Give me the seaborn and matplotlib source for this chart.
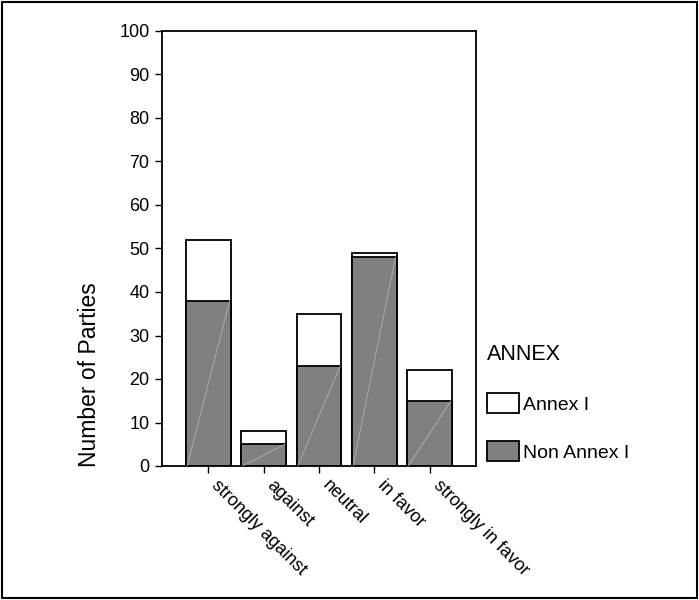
import pandas as pd
import matplotlib
matplotlib.use('Agg')
import matplotlib.pyplot as plt
from matplotlib.patches import Patch, Rectangle
from matplotlib.transforms import ScaledTranslation
import seaborn as sns

# Party positions and counts
positions = ['strongly against', 'against', 'neutral', 'in favor', 'strongly in favor']
non_annex = [38, 5, 23, 48, 15]
annex = [14, 3, 12, 1, 7]
y_ticks = list(range(0, 101, 10))

df = pd.DataFrame({'position': positions, 'Non Annex I': non_annex, 'Annex I': annex})
df['total'] = df['Non Annex I'] + df['Annex I']

sns.set_style('white')
plt.rcParams['font.family'] = ['Liberation Sans', 'DejaVu Sans']
plt.rcParams['text.color'] = 'black'
plt.rcParams['axes.labelcolor'] = 'black'
plt.rcParams['xtick.color'] = 'black'
plt.rcParams['ytick.color'] = 'black'

fig = plt.figure(figsize=(6.99, 6.00), dpi=100)
ax = fig.add_axes([162 / 699, 1 - 466 / 600, 314 / 699, 435 / 600])

# Stacked bars: full height in white, Non Annex I in gray on top of it
sns.barplot(data=df, x='position', y='total', color='white', saturation=1,
            edgecolor='black', linewidth=1.3, width=0.81, ax=ax)
sns.barplot(data=df, x='position', y='Non Annex I', color='#808080', saturation=1,
            edgecolor='black', linewidth=1.3, width=0.81, ax=ax)

# faint diagonal streak inside the gray bars
for p in ax.patches[len(positions):]:
    x0, w, h = p.get_x(), p.get_width(), p.get_height()
    ax.plot([x0 + 0.02, x0 + w - 0.02], [0, h], color='#bbbbbb', lw=0.5, zorder=3)

ax.set_ylim(0, 100)
ax.set_xlim(-0.84, len(positions) - 1 + 0.84)
ax.set_yticks(y_ticks)
ax.tick_params(axis='y', labelsize=13, length=5, width=1, direction='out', left=True, pad=4)
ax.tick_params(axis='x', labelsize=13, length=5, width=1, direction='out', bottom=True, pad=7)
ax.set_xticks(range(len(positions)))
ax.set_xticklabels(positions, rotation=-45, ha='left', va='center', rotation_mode='anchor')
shift = ScaledTranslation(0.06, 0, fig.dpi_scale_trans)
for lab in ax.get_xticklabels():
    lab.set_transform(lab.get_transform() + shift)
ax.set_xlabel('')
ax.set_ylabel('Number of Parties', fontsize=16.5)
ax.yaxis.set_label_coords(-0.195, 0.209)
for s in ax.spines.values():
    s.set_color('black')
    s.set_linewidth(1.3)

handles = [Patch(facecolor='white', edgecolor='black', linewidth=1.3),
           Patch(facecolor='#808080', edgecolor='black', linewidth=1.3)]
leg = fig.legend(handles, ['Annex I', 'Non Annex I'], title='ANNEX',
                 loc='upper left', bbox_to_anchor=(487 / 699, 1 - 344 / 600),
                 frameon=False, fontsize=14, title_fontsize=15.5, alignment='left',
                 handlelength=1.65, handleheight=1.25, handletextpad=0.2,
                 labelspacing=1.4, borderpad=0, borderaxespad=0)
leg._legend_box.sep = 20

# border around the whole picture
fig.add_artist(Rectangle((0.003, 0.003), 0.994, 0.994, transform=fig.transFigure,
                         fill=False, edgecolor='black', linewidth=1.5))

fig.savefig('out.png', dpi=100)
